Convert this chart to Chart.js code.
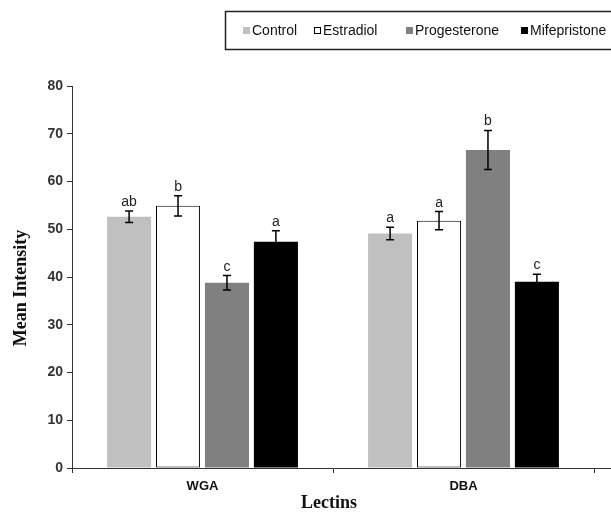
<!DOCTYPE html>
<html><head><meta charset="utf-8">
<script src="https://cdn.jsdelivr.net/npm/chart.js@4.4.1/dist/chart.umd.min.js"></script>
<style>html,body{margin:0;padding:0;background:#fff}#wrap{width:611px;height:520px}</style>
</head><body><div id="wrap"><canvas id="c" width="611" height="520"></canvas></div>
<script>
const categories = ['WGA', 'DBA'];
const seriesNames = ['Control', 'Estradiol', 'Progesterone', 'Mifepristone'];
const controlValues = [52.6, 49.1];
const estradiolValues = [54.9, 51.8];
const progesteroneValues = [38.8, 66.6];
const mifepristoneValues = [47.4, 39.0];
const controlErrors = [1.2, 1.3];
const estradiolErrors = [2.1, 1.9];
const progesteroneErrors = [1.5, 4.1];
const mifepristoneErrors = [2.3, 1.6];
const controlLetters = ['ab', 'a'];
const estradiolLetters = ['b', 'a'];
const progesteroneLetters = ['c', 'b'];
const mifepristoneLetters = ['a', 'c'];
const yTicks = [0, 10, 20, 30, 40, 50, 60, 70, 80];
const xTitle = 'Lectins';
const yTitle = 'Mean Intensity';

const styles = [
  {bg: '#c0c0c0', border: '#c0c0c0', bw: 0},
  {bg: '#ffffff', border: '#000000', bw: 1},
  {bg: '#808080', border: '#808080', bw: 0},
  {bg: '#000000', border: '#000000', bw: 0}
];
const values = [controlValues, estradiolValues, progesteroneValues, mifepristoneValues];
const errors = [controlErrors, estradiolErrors, progesteroneErrors, mifepristoneErrors];
const letters = [controlLetters, estradiolLetters, progesteroneLetters, mifepristoneLetters];

const datasets = seriesNames.map((n, i) => ({
  label: n,
  data: values[i],
  errors: errors[i],
  letters: letters[i],
  backgroundColor: styles[i].bg,
  borderColor: styles[i].border,
  borderWidth: styles[i].bw,
  borderSkipped: false,
  categoryPercentage: 0.75,
  barPercentage: 0.9
}));

const SANS = '"Liberation Sans", Arial, sans-serif';
const SERIF = '"Liberation Serif", "Times New Roman", serif';

const extras = {
  id: 'extras',
  afterDatasetsDraw(chart) {
    const ctx = chart.ctx;
    const y = chart.scales.y;
    ctx.save();
    chart.data.datasets.forEach((ds, di) => {
      const meta = chart.getDatasetMeta(di);
      meta.data.forEach((bar, i) => {
        const v = ds.data[i], e = ds.errors[i];
        const yt = y.getPixelForValue(v + e), yb = y.getPixelForValue(v - e);
        const x = bar.x;
        ctx.strokeStyle = '#000';
        ctx.lineWidth = 1.5;
        ctx.beginPath();
        ctx.moveTo(x, yt); ctx.lineTo(x, yb);
        ctx.moveTo(x - 4, yt); ctx.lineTo(x + 4, yt);
        ctx.moveTo(x - 4, yb); ctx.lineTo(x + 4, yb);
        ctx.stroke();
        ctx.fillStyle = '#222';
        ctx.font = '14px ' + SANS;
        ctx.textAlign = 'center';
        ctx.textBaseline = 'alphabetic';
        ctx.fillText(ds.letters[i], x, yt - 5);
      });
    });
    ctx.restore();
  },
  afterDraw(chart) {
    const ctx = chart.ctx;
    const ca = chart.chartArea;
    ctx.save();
    // extend x axis line
    ctx.strokeStyle = '#333';
    ctx.lineWidth = 1;
    ctx.beginPath();
    ctx.moveTo(ca.right, Math.round(ca.bottom) + 0.5);
    ctx.lineTo(chart.width, Math.round(ca.bottom) + 0.5);
    ctx.stroke();
    // axis titles
    ctx.fillStyle = '#111';
    ctx.font = 'bold 18px ' + SERIF;
    ctx.textAlign = 'center';
    ctx.textBaseline = 'middle';
    ctx.fillText(xTitle, 329, 503);
    ctx.translate(21, 288);
    ctx.rotate(-Math.PI / 2);
    ctx.fillText(yTitle, 0, 0);
    ctx.restore();
    // legend box
    ctx.save();
    ctx.strokeStyle = '#222';
    ctx.lineWidth = 1.5;
    ctx.strokeRect(225.5, 11.5, 400, 38);
    const xs = [243, 314, 406, 521];
    ctx.font = '14px ' + SANS;
    ctx.textBaseline = 'middle';
    ctx.textAlign = 'left';
    chart.data.datasets.forEach((ds, i) => {
      const x = xs[i];
      ctx.fillStyle = ds.backgroundColor;
      ctx.fillRect(x, 27, 7, 7);
      if (ds.borderWidth) {
        ctx.strokeStyle = ds.borderColor;
        ctx.lineWidth = 1;
        ctx.strokeRect(x + 0.5, 27.5, 6, 6);
      }
      ctx.fillStyle = '#111';
      ctx.fillText(ds.label, x + 9, 31);
    });
    ctx.restore();
  }
};

new Chart(document.getElementById('c'), {
  type: 'bar',
  data: { labels: categories, datasets },
  options: {
    responsive: false,
    animation: false,
    devicePixelRatio: 1,
    layout: { padding: { left: 0, right: 17, top: 86, bottom: 0 } },
    plugins: { legend: { display: false }, tooltip: { enabled: false } },
    scales: {
      x: {
        grid: { display: true, drawOnChartArea: false, drawTicks: true, tickLength: 5, color: '#333', offset: true },
        border: { display: true, color: '#333', width: 1 },
        ticks: { color: '#111', font: { family: SANS, size: 13, weight: 'bold' }, padding: 6 },
        afterFit(s) { s.height = 52; }
      },
      y: {
        min: 0, max: 80,
        afterBuildTicks(s) { s.ticks = yTicks.map(v => ({ value: v })); },
        grid: { display: true, drawOnChartArea: false, drawTicks: true, tickLength: 5, color: '#333' },
        border: { display: true, color: '#333', width: 1 },
        ticks: { color: '#333', font: { family: SANS, size: 14, weight: 'bold' }, padding: 4 },
        afterFit(s) { s.width = 72; }
      }
    }
  },
  plugins: [extras]
});
</script></body></html>
